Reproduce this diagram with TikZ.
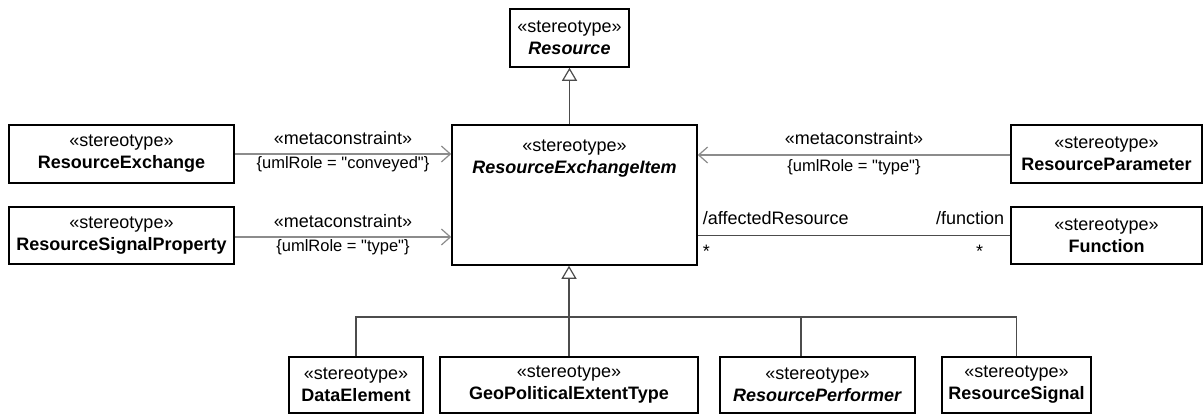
\documentclass[tikz,border=0pt]{standalone}
\usepackage{fontspec}
\setmainfont{Liberation Sans}
\usetikzlibrary{arrows.meta}
\newcommand{\sq}{\textquotedbl}
\begin{document}
\begin{tikzpicture}[x=1pt,y=-1pt,
  box/.style={draw=black, line width=1.5pt, fill=white, align=center, inner sep=0pt,
    font=\fontsize{18}{22}\selectfont},
  gen/.style={draw=black!70, line width=1.2pt},
  genarrow/.style={gen, -{Triangle[open, length=13pt, width=15pt, fill=white]}},
  meta/.style={draw=black!45, line width=1.2pt, -{Straight Barb[length=9pt, width=16pt, line width=1.2pt]}},
  assoc/.style={draw=black!70, line width=1.2pt},
  lbl/.style={font=\fontsize{18}{22}\selectfont, inner sep=0pt},
  clbl/.style={font=\fontsize{16.5}{20}\selectfont, inner sep=0pt}]
\useasboundingbox (0,0) rectangle (1204,415);

% boxes
\node[box, minimum width=119pt, minimum height=58pt] (res) at (569.5,38) {«stereotype»\\\textbf{\textit{Resource}}};
\node[box, minimum width=245pt, minimum height=140pt] (rei) at (574.5,195) {};
\node[lbl, anchor=base] (reis) at (574.5,151) {«stereotype»};
\node[lbl, anchor=base] (rein) at (574.5,173) {\textbf{\textit{ResourceExchangeItem}}};
\node[box, minimum width=225pt, minimum height=58pt] (re) at (121.5,154) {«stereotype»\\\textbf{ResourceExchange}};
\node[box, minimum width=225pt, minimum height=57pt] (rsp) at (121.5,235.5) {«stereotype»\\\textbf{ResourceSignalProperty}};
\node[box, minimum width=191pt, minimum height=58pt] (rpar) at (1106.5,154) {«stereotype»\\\textbf{ResourceParameter}};
\node[box, minimum width=191pt, minimum height=57pt] (fun) at (1106.5,235.5) {«stereotype»\\\textbf{Function}};
\node[box, minimum width=134pt, minimum height=56pt] (de) at (356,385) {«stereotype»\\\textbf{DataElement}};
\node[box, minimum width=258pt, minimum height=56pt] (geo) at (569,385) {«stereotype»\\\textbf{GeoPoliticalExtentType}};
\node[box, minimum width=195pt, minimum height=56pt] (rp) at (817.5,385) {«stereotype»\\\textbf{\textit{ResourcePerformer}}};
\node[box, minimum width=149pt, minimum height=56pt] (rs) at (1016.5,385) {«stereotype»\\\textbf{ResourceSignal}};

% generalizations
\draw[genarrow] (rei.north -| res.south) -- (res.south);
\coordinate (bus) at (569,317);
\draw[gen] (de.north) |- (bus);
\draw[gen] ([xshift=-16.5pt]rp.north) |- (bus);
\draw[gen] (rs.north) |- (bus);
\draw[genarrow] (geo.north) -- (geo.north |- rei.south);

% metaconstraints
\draw[meta] (re.east) -- (re.east -| rei.west)
  node[lbl, midway, anchor=base, yshift=10pt] (m1) {«metaconstraint»}
  node[clbl, midway, anchor=base, yshift=-14pt] (c1) {\{umlRole = \sq conveyed\sq\}};
\draw[meta] ([yshift=-1.5pt]rsp.east) -- ([yshift=-1.5pt]rsp.east -| rei.west)
  node[lbl, midway, anchor=base, yshift=10pt] (m2) {«metaconstraint»}
  node[clbl, midway, anchor=base, yshift=-14pt] (c2) {\{umlRole = \sq type\sq\}};
\draw[meta] ([yshift=-1pt]rpar.west) -- ([yshift=-1pt]rpar.west -| rei.east)
  node[lbl, midway, anchor=base, yshift=11pt] (m3) {«metaconstraint»}
  node[clbl, midway, anchor=base, yshift=-16pt] (c3) {\{umlRole = \sq type\sq\}};

% association
\coordinate (aL) at (fun.west -| rei.east);
\draw[assoc] (fun.west) -- (aL);
\node[lbl, anchor=base west] (ar) at ([xshift=5pt, yshift=11pt]aL) {/affectedResource};
\node[lbl, anchor=base east] (fr) at ([xshift=-6pt, yshift=11pt]fun.west) {/function};
\node[lbl, anchor=base west] (s1) at ([xshift=5pt, yshift=-22pt]aL) {*};
\node[lbl, anchor=base east] (s2) at ([xshift=-27pt, yshift=-22pt]fun.west) {*};
\end{tikzpicture}
\end{document}
